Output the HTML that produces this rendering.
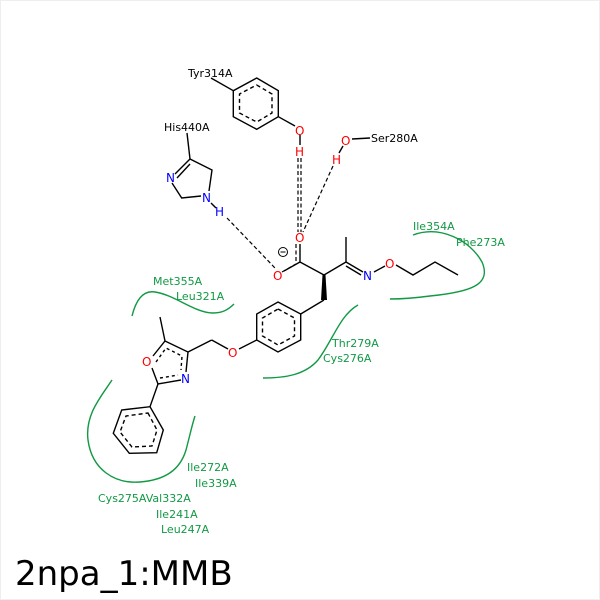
<!DOCTYPE html>
<html><head><meta charset="utf-8"><style>
html,body{margin:0;padding:0;background:#fff;}
svg{display:block;}
text{font-family:"DejaVu Sans","Liberation Sans",sans-serif;}
</style></head><body>
<svg width="600" height="600" viewBox="0 0 600 600" xmlns="http://www.w3.org/2000/svg">
<rect x="0.5" y="0.5" width="599" height="599" fill="#fff" stroke="#eee"/>
<g stroke="#000" stroke-width="1.4" fill="none">
<polygon points="256.7,78 278.3,90.7 278.3,116.7 256.7,129.3 233.3,116.7 233.3,90.7"/>
<polygon points="256.7,85 272,94 272,113 256.7,122 239.5,113 239.5,94" stroke-dasharray="4,3"/>
<line x1="211" y1="78" x2="233.3" y2="90.7"/>
<line x1="278.3" y1="116.7" x2="295" y2="126"/>
<line x1="300" y1="135" x2="300" y2="145"/>
<line x1="352" y1="139" x2="370" y2="138"/>
<line x1="343" y1="146" x2="339" y2="153"/>
<line x1="187" y1="133" x2="190" y2="159"/>
<polyline points="175,174 190,159 212,170 209,191"/>
<line x1="177" y1="178" x2="190" y2="164" />
<polyline points="172,183 181.7,198 201,196"/>
<line x1="211" y1="203" x2="216" y2="208"/>
<g stroke-dasharray="4,2.5" stroke-width="1.2">
<line x1="227" y1="218" x2="275" y2="268"/>
<line x1="298" y1="158" x2="298" y2="232"/>
<line x1="301" y1="158" x2="301" y2="232"/>
<line x1="333" y1="166" x2="303" y2="232"/>
<line x1="296" y1="244" x2="296" y2="262"/>
<line x1="282" y1="272" x2="296" y2="264"/>
</g>
<line x1="300" y1="244" x2="300" y2="262"/>
<line x1="284" y1="271" x2="300" y2="262"/>
<line x1="300" y1="262" x2="324" y2="275"/>
<line x1="324" y1="275" x2="346" y2="262"/>
<line x1="346" y1="262" x2="346" y2="237"/>
<line x1="346" y1="262" x2="363" y2="272"/>
<line x1="346" y1="266" x2="361" y2="275"/>
<line x1="374" y1="272" x2="385" y2="266"/>
<polyline points="396,265 413,275 435,262 458,275"/>
<line x1="324" y1="300" x2="300.7" y2="314"/>
<polygon points="278,302 300.7,314 300.7,340 278,352 256.7,340 256.7,314"/>
<polygon points="278,309 294.5,318 294.5,336 278,345 262.5,336 262.5,318" stroke-dasharray="4,3"/>
<line x1="256.7" y1="340" x2="239" y2="349"/>
<line x1="228" y1="349" x2="211.7" y2="340"/>
<line x1="211.7" y1="340" x2="188" y2="352"/>
<polyline points="153,356 165,341 188,352 186,372"/>
<polyline points="181,380 158,384 152,368"/>
<line x1="165" y1="341" x2="160" y2="317"/>
<polyline points="156,362 166,348 182,356 181,370" stroke-dasharray="3,3"/>
<line x1="160" y1="378" x2="178" y2="375" stroke-dasharray="3,3"/>
<line x1="158" y1="384" x2="150" y2="406.7"/>
<polygon points="150,406.7 163.3,430 156.7,452.7 129.3,453.3 113.3,433.3 121.7,410"/>
<polygon points="148,413 157,430 152,446 132,447 120,432 126,416" stroke-dasharray="4,3"/>
</g>
<polygon points="322.5,275 325.5,275 327,300 321,300" fill="#000"/>
<circle cx="283" cy="252" r="4.5" fill="none" stroke="#000" stroke-width="1"/>
<line x1="280.5" y1="252" x2="285.5" y2="252" stroke="#000" stroke-width="1"/>
<g stroke="#119944" stroke-width="1.4" fill="none">
<path d="M132,316 C136,300 143,290 155,292 C175,295 195,313 213,313 C222,313 228,310 234,304"/>
<path d="M358,305 C340,315 333,340 318,360 C305,375 285,378 263,378"/>
<path d="M413,235 C440,225 470,240 482,262 C492,285 470,292 430,296 C415,298 400,299 390,299"/>
<path d="M112,380 C100,398 85,415 88,440 C92,470 115,484 140,482 C165,480 180,470 186,450 C190,435 192,425 195,416"/>
</g>
<g font-size="11">
<text x="188" y="77" fill="#000">Tyr314A</text>
<text x="164" y="131" fill="#000">His440A</text>
<text x="371" y="142" fill="#000">Ser280A</text>
<text x="295" y="135" fill="#f00" font-size="12">O</text>
<text x="295" y="156" fill="#f00" font-size="12">H</text>
<text x="341" y="145" fill="#f00" font-size="12">O</text>
<text x="332" y="164" fill="#f00" font-size="12">H</text>
<text x="295" y="242" fill="#f00" font-size="12">O</text>
<text x="273" y="280" fill="#f00" font-size="12">O</text>
<text x="385" y="268" fill="#f00" font-size="12">O</text>
<text x="228" y="357" fill="#f00" font-size="12">O</text>
<text x="142" y="366" fill="#f00" font-size="12">O</text>
<text x="166" y="182" fill="#00f" font-size="12">N</text>
<text x="202" y="202" fill="#00f" font-size="12">N</text>
<text x="215" y="216" fill="#00f" font-size="12">H</text>
<text x="363" y="280" fill="#00f" font-size="12">N</text>
<text x="181" y="383" fill="#00f" font-size="12">N</text>
<g fill="#119944">
<text x="413" y="230">Ile354A</text>
<text x="456" y="246">Phe273A</text>
<text x="153" y="285">Met355A</text>
<text x="176" y="300">Leu321A</text>
<text x="332" y="347">Thr279A</text>
<text x="323" y="362">Cys276A</text>
<text x="187" y="471">Ile272A</text>
<text x="195" y="487">Ile339A</text>
<text x="98" y="502">Cys275AVal332A</text>
<text x="156" y="518">Ile241A</text>
<text x="161" y="533">Leu247A</text>
</g>
</g>
<text x="15" y="585" font-size="34" fill="#000">2npa_1:MMB</text>
</svg>
</body></html>
